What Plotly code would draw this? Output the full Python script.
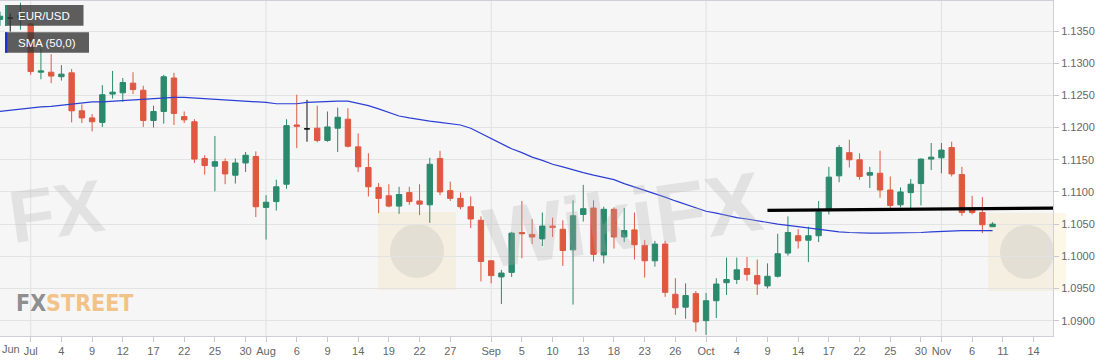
import plotly.graph_objects as go

# ---------------- data ----------------
dates = [
    "2019-06-26", "2019-06-27", "2019-06-28",
    "2019-07-01", "2019-07-02", "2019-07-03", "2019-07-04", "2019-07-05",
    "2019-07-08", "2019-07-09", "2019-07-10", "2019-07-11", "2019-07-12",
    "2019-07-15", "2019-07-16", "2019-07-17", "2019-07-18", "2019-07-19",
    "2019-07-22", "2019-07-23", "2019-07-24", "2019-07-25", "2019-07-26",
    "2019-07-29", "2019-07-30", "2019-07-31", "2019-08-01", "2019-08-02",
    "2019-08-05", "2019-08-06", "2019-08-07", "2019-08-08", "2019-08-09",
    "2019-08-12", "2019-08-13", "2019-08-14", "2019-08-15", "2019-08-16",
    "2019-08-19", "2019-08-20", "2019-08-21", "2019-08-22", "2019-08-23",
    "2019-08-26", "2019-08-27", "2019-08-28", "2019-08-29", "2019-08-30",
    "2019-09-02", "2019-09-03", "2019-09-04", "2019-09-05", "2019-09-06",
    "2019-09-09", "2019-09-10", "2019-09-11", "2019-09-12", "2019-09-13",
    "2019-09-16", "2019-09-17", "2019-09-18", "2019-09-19", "2019-09-20",
    "2019-09-23", "2019-09-24", "2019-09-25", "2019-09-26", "2019-09-27",
    "2019-09-30", "2019-10-01", "2019-10-02", "2019-10-03", "2019-10-04",
    "2019-10-07", "2019-10-08", "2019-10-09", "2019-10-10", "2019-10-11",
    "2019-10-14", "2019-10-15", "2019-10-16", "2019-10-17", "2019-10-18",
    "2019-10-21", "2019-10-22", "2019-10-23", "2019-10-24", "2019-10-25",
    "2019-10-28", "2019-10-29", "2019-10-30", "2019-10-31", "2019-11-01",
    "2019-11-04", "2019-11-05", "2019-11-06", "2019-11-07", "2019-11-08",
]

open_ = [
    1.1368, 1.1370, 1.1371,
    1.1361, 1.1286, 1.1286, 1.1279, 1.1285,
    1.1226, 1.1215, 1.1208, 1.1252, 1.1254,
    1.1269, 1.1258, 1.1211, 1.1225, 1.1277,
    1.1217, 1.1209, 1.1152, 1.1140, 1.1147,
    1.1126, 1.1145, 1.1155, 1.1076, 1.1085,
    1.1112, 1.1204, 1.1198, 1.1199, 1.1180,
    1.1199, 1.1213, 1.1170, 1.1138, 1.1107,
    1.1094, 1.1078, 1.1099, 1.1086, 1.1080,
    1.1152, 1.1102, 1.1090, 1.1077, 1.1056,
    1.0993, 1.0968, 1.0975, 1.1037, 1.1034,
    1.1027, 1.1047, 1.1042, 1.1010, 1.1065,
    1.1075, 1.1002, 1.1073, 1.1030, 1.1041,
    1.1017, 1.0993, 1.1019, 1.0941, 1.0921,
    1.0942, 1.0900, 1.0931, 1.0959, 1.0964,
    1.0981, 1.0970, 1.0954, 1.0969, 1.1005,
    1.1032, 1.1025, 1.1032, 1.1073, 1.1125,
    1.1161, 1.1150, 1.1126, 1.1129, 1.1103,
    1.1080, 1.1099, 1.1113, 1.1151, 1.1153,
    1.1169, 1.1127, 1.1072, 1.1068, 1.1046,
]

high = [
    1.1380, 1.1377, 1.1394,
    1.1363, 1.1323, 1.1314, 1.1297, 1.1291,
    1.1236, 1.1221, 1.1266, 1.1288, 1.1277,
    1.1286, 1.1265, 1.1234, 1.1282, 1.1285,
    1.1225, 1.1213, 1.1157, 1.1187, 1.1152,
    1.1152, 1.1162, 1.1163, 1.1095, 1.1119,
    1.1213, 1.1251, 1.1243, 1.1234, 1.1225,
    1.1231, 1.1230, 1.1191, 1.1160, 1.1114,
    1.1112, 1.1108, 1.1108, 1.1112, 1.1153,
    1.1164, 1.1116, 1.1099, 1.1093, 1.1062,
    1.0994, 1.0979, 1.1038, 1.1086, 1.1058,
    1.1068, 1.1060, 1.1056, 1.1087, 1.1111,
    1.1087, 1.1077, 1.1076, 1.1075, 1.1068,
    1.1025, 1.1024, 1.1024, 1.0966, 1.0958,
    1.0946, 1.0943, 1.0966, 1.0998, 1.0998,
    1.0999, 1.0995, 1.0989, 1.1035, 1.1062,
    1.1042, 1.1046, 1.1086, 1.1139, 1.1173,
    1.1181, 1.1160, 1.1139, 1.1164, 1.1124,
    1.1107, 1.1120, 1.1152, 1.1176, 1.1176,
    1.1178, 1.1139, 1.1094, 1.1092, 1.1053,
]

low = [
    1.1358, 1.1349, 1.1352,
    1.1282, 1.1275, 1.1269, 1.1273, 1.1208,
    1.1207, 1.1194, 1.1201, 1.1245, 1.1240,
    1.1252, 1.1201, 1.1200, 1.1206, 1.1204,
    1.1207, 1.1145, 1.1127, 1.1101, 1.1112,
    1.1113, 1.1131, 1.1061, 1.1026, 1.1071,
    1.1105, 1.1168, 1.1178, 1.1177, 1.1178,
    1.1162, 1.1169, 1.1131, 1.1093, 1.1067,
    1.1076, 1.1066, 1.1080, 1.1064, 1.1052,
    1.1095, 1.1086, 1.1073, 1.1044, 1.0961,
    1.0958, 1.0926, 1.0968, 1.0997, 1.1019,
    1.1016, 1.1030, 1.0985, 1.0925, 1.1054,
    1.0992, 1.0989, 1.1012, 1.1022, 1.0995,
    1.0967, 1.0984, 1.0937, 1.0909, 1.0903,
    1.0883, 1.0878, 1.0904, 1.0940, 1.0957,
    1.0962, 1.0940, 1.0950, 1.0967, 1.1001,
    1.1012, 1.0991, 1.1022, 1.1065, 1.1115,
    1.1138, 1.1119, 1.1106, 1.1091, 1.1075,
    1.1076, 1.1075, 1.1079, 1.1134, 1.1129,
    1.1124, 1.1063, 1.1065, 1.1036, 1.1046,
]

close = [
    1.1373, 1.1370, 1.1374,
    1.1287, 1.1288, 1.1280, 1.1283, 1.1226,
    1.1215, 1.1209, 1.1251, 1.1255, 1.1270,
    1.1259, 1.1211, 1.1225, 1.1279, 1.1222,
    1.1212, 1.1151, 1.1141, 1.1147, 1.1128,
    1.1145, 1.1157, 1.1077, 1.1084, 1.1108,
    1.1203, 1.1202, 1.1198, 1.1180, 1.1201,
    1.1216, 1.1171, 1.1139, 1.1108, 1.1090,
    1.1078, 1.1096, 1.1085, 1.1081, 1.1143,
    1.1100, 1.1090, 1.1077, 1.1058, 1.0992,
    1.0970, 1.0974, 1.1036, 1.1035, 1.1030,
    1.1047, 1.1045, 1.1009, 1.1063, 1.1074,
    1.1003, 1.1073, 1.1030, 1.1040, 1.1018,
    1.0993, 1.1019, 1.0944, 1.0920, 1.0939,
    1.0898, 1.0931, 1.0957, 1.0964, 1.0979,
    1.0972, 1.0957, 1.0969, 1.1004, 1.1037,
    1.1024, 1.1032, 1.1069, 1.1123, 1.1169,
    1.1150, 1.1124, 1.1130, 1.1103, 1.1079,
    1.1100, 1.1112, 1.1151, 1.1154, 1.1165,
    1.1128, 1.1068, 1.1068, 1.1049, 1.1050,
]

sma50 = [
    1.1225, 1.1227, 1.1229,
    1.1231, 1.1232, 1.1233, 1.1235, 1.1237,
    1.1239, 1.1240, 1.1240, 1.1241, 1.1242,
    1.1244, 1.1245, 1.1246, 1.1246, 1.1247,
    1.1247, 1.1246, 1.1245, 1.1244, 1.1244,
    1.1243, 1.1242, 1.1241, 1.1239, 1.1237,
    1.1237, 1.1237, 1.1239, 1.1240, 1.1241,
    1.1241, 1.1241, 1.1238, 1.1234, 1.1229,
    1.1223, 1.1218, 1.1215, 1.1212, 1.1210,
    1.1208, 1.1206, 1.1204, 1.1199, 1.1191,
    1.1182, 1.1174, 1.1167, 1.1161, 1.1154,
    1.1149, 1.1143, 1.1139, 1.1134, 1.1130,
    1.1126, 1.1122, 1.1119, 1.1113, 1.1108,
    1.1102, 1.1098, 1.1092, 1.1086, 1.1081,
    1.1075, 1.1070, 1.1067, 1.1063, 1.1060,
    1.1058, 1.1055, 1.1052, 1.1050, 1.1048,
    1.1046, 1.1043, 1.1041, 1.1039, 1.1038,
    1.1037, 1.1036, 1.1036, 1.1036, 1.1036,
    1.1036, 1.1037, 1.1037, 1.1038, 1.1039,
    1.1039, 1.1040, 1.1040, 1.1040, 1.1040,
]

# hand-drawn resistance line (two anchor points)
trend_dates = ["2019-10-09", "2019-11-15 22:00"]
trend_prices = [1.10715, 1.10748]

tick_dates = [
    "2019-07-01", "2019-07-04", "2019-07-09", "2019-07-12", "2019-07-17",
    "2019-07-22", "2019-07-25", "2019-07-30", "2019-08-01", "2019-08-06",
    "2019-08-09", "2019-08-14", "2019-08-19", "2019-08-22", "2019-08-27",
    "2019-09-02", "2019-09-05", "2019-09-10", "2019-09-13", "2019-09-18",
    "2019-09-23", "2019-09-26", "2019-10-01", "2019-10-04", "2019-10-09",
    "2019-10-14", "2019-10-17", "2019-10-22", "2019-10-25", "2019-10-30",
    "2019-11-01", "2019-11-06", "2019-11-11", "2019-11-14",
]
tick_labels = [
    "Jul", "4", "9", "12", "17", "22", "25", "30", "Aug", "6",
    "9", "14", "19", "22", "27", "Sep", "5", "10", "13", "18",
    "23", "26", "Oct", "4", "9", "14", "17", "22", "25", "30",
    "Nov", "6", "11", "14",
]
month_starts = ["2019-07-01", "2019-08-01", "2019-09-02", "2019-10-01", "2019-11-01"]
x_range = ["2019-06-26", "2019-11-15 21:40"]
y_range = [1.08762, 1.13966]

# ---------------- style ----------------
GREEN = "#2b8a6c"
RED = "#df5841"
BLUE = "#2c3fd4"
TICK_COL = "#666666"
W, H = 1118, 362
ML, MR, MT, MB = 0, 65, 1, 26
PW, PH = W - ML - MR, H - MT - MB


def px(x):
    return x / PW


def py(y):
    return 1 - (y - MT) / PH


reg = [i for i in range(len(dates)) if open_[i] != close[i]]
doji = [i for i in range(len(dates)) if open_[i] == close[i]]


def pick(arr, idx):
    return [arr[i] for i in idx]


fig = go.Figure()
fig.add_trace(go.Candlestick(
    x=pick(dates, reg), open=pick(open_, reg), high=pick(high, reg),
    low=pick(low, reg), close=pick(close, reg),
    increasing=dict(line=dict(color=GREEN, width=1), fillcolor=GREEN),
    decreasing=dict(line=dict(color=RED, width=1), fillcolor=RED),
    whiskerwidth=0, showlegend=False, hoverinfo="skip",
))
fig.add_trace(go.Candlestick(
    x=pick(dates, doji), open=pick(open_, doji), high=pick(high, doji),
    low=pick(low, doji), close=pick(close, doji),
    increasing=dict(line=dict(color="#111111", width=1), fillcolor="#111111"),
    decreasing=dict(line=dict(color="#111111", width=1), fillcolor="#111111"),
    whiskerwidth=0, showlegend=False, hoverinfo="skip",
))
fig.add_trace(go.Scatter(
    x=dates, y=sma50, mode="lines", line=dict(color=BLUE, width=1.2),
    showlegend=False, hoverinfo="skip",
))
fig.add_trace(go.Scatter(
    x=trend_dates, y=trend_prices, mode="lines",
    line=dict(color="#000000", width=3.2), showlegend=False, hoverinfo="skip",
))

shapes = []
# month gridlines
for d in month_starts:
    shapes.append(dict(type="line", xref="x", yref="paper", x0=d, x1=d, y0=0, y1=1,
                       line=dict(color="#e0e0e0", width=1), layer="below"))

# watermark logos (eagle badges)
for cx, cy in [(417, 251), (1027, 252)]:
    shapes.append(dict(type="rect", xref="paper", yref="paper",
                       x0=px(cx - 39), x1=px(cx + 39), y0=py(cy + 39), y1=py(cy - 39),
                       fillcolor="rgba(246,214,140,0.20)", line=dict(width=0), layer="below"))
    shapes.append(dict(type="circle", xref="paper", yref="paper",
                       x0=px(cx - 27), x1=px(cx + 27), y0=py(cy + 27), y1=py(cy - 27),
                       fillcolor="rgba(170,170,170,0.22)", line=dict(width=0), layer="below"))

# legend chips
shapes.append(dict(type="rect", xref="paper", yref="paper",
                   x0=px(5), x1=px(83.5), y0=py(25.7), y1=py(5),
                   fillcolor="rgba(55,55,55,0.8)", line=dict(width=0)))
shapes.append(dict(type="rect", xref="paper", yref="paper",
                   x0=px(5), x1=px(7.3), y0=py(25.7), y1=py(5),
                   fillcolor=GREEN, line=dict(width=0)))
shapes.append(dict(type="rect", xref="paper", yref="paper",
                   x0=px(5), x1=px(89), y0=py(52.7), y1=py(32.3),
                   fillcolor="rgba(55,55,55,0.8)", line=dict(width=0)))
shapes.append(dict(type="rect", xref="paper", yref="paper",
                   x0=px(5), x1=px(7.3), y0=py(52.7), y1=py(32.3),
                   fillcolor="#1f2fd0", line=dict(width=0)))

WM_COL = "rgba(175,175,175,0.28)"
annotations = [
    dict(text="EUR/USD", xref="paper", yref="paper", x=px(16), y=py(15.5),
         xanchor="left", yanchor="middle", showarrow=False,
         font=dict(family="Liberation Sans, Arial, sans-serif", size=11.5, color="#ffffff")),
    dict(text="SMA (50,0)", xref="paper", yref="paper", x=px(16), y=py(42.5),
         xanchor="left", yanchor="middle", showarrow=False,
         font=dict(family="Liberation Sans, Arial, sans-serif", size=11.5, color="#ffffff")),
    dict(text="Jun", xref="paper", yref="paper", x=px(0), y=py(349),
         xanchor="left", yanchor="middle", showarrow=False,
         font=dict(family="Liberation Sans, Arial, sans-serif", size=11, color=TICK_COL)),
    # watermarks
    dict(text="<b>WikiFX</b>", xref="paper", yref="paper", x=px(622), y=py(220),
         xanchor="center", yanchor="middle", showarrow=False, textangle=-8,
         font=dict(family="Liberation Sans, Arial, sans-serif", size=84, color=WM_COL)),
    dict(text="<b>FX</b>", xref="paper", yref="paper", x=px(1), y=py(212),
         xanchor="left", yanchor="middle", showarrow=False, textangle=-8,
         font=dict(family="Liberation Sans, Arial, sans-serif", size=74, color=WM_COL)),
    dict(text="<span style='color:#8f8f8f'>FX</span><span style='color:#f1c389'>STREET</span>",
         xref="paper", yref="paper", x=px(14), y=py(303), xanchor="left", yanchor="middle",
         showarrow=False,
         font=dict(family="Liberation Sans Narrow, Arial Narrow, DejaVu Sans Condensed, sans-serif",
                   size=23, weight="bold")),
]

fig.update_layout(
    width=W, height=H,
    margin=dict(l=ML, r=MR, t=MT, b=MB, pad=0),
    paper_bgcolor="#ffffff",
    plot_bgcolor="#f6f6f7",
    boxgap=0.25,
    showlegend=False,
    shapes=shapes,
    annotations=annotations,
    font=dict(family="Liberation Sans, Arial, sans-serif", size=11, color=TICK_COL),
    xaxis=dict(
        type="date", range=x_range,
        rangebreaks=[dict(bounds=["sat", "mon"])],
        rangeslider=dict(visible=False),
        tickmode="array", tickvals=tick_dates, ticktext=tick_labels,
        ticks="outside", ticklen=5, tickcolor="#c8c8d0", tickwidth=1,
        showgrid=False, zeroline=False,
        showline=True, linecolor="#cfcfdc", linewidth=1, mirror=True,
        tickfont=dict(size=11, color=TICK_COL),
        fixedrange=True,
    ),
    yaxis=dict(
        side="right", range=y_range,
        tickmode="linear", tick0=1.09, dtick=0.005, tickformat=".4f",
        ticks="outside", ticklen=5, tickcolor="#c8c8d0", tickwidth=1,
        showgrid=True, gridcolor="#e3e3e3", gridwidth=1, zeroline=False,
        showline=True, linecolor="#cfcfdc", linewidth=1, mirror=True,
        tickfont=dict(size=11, color=TICK_COL),
        fixedrange=True,
    ),
)

fig.write_html("out.html")
